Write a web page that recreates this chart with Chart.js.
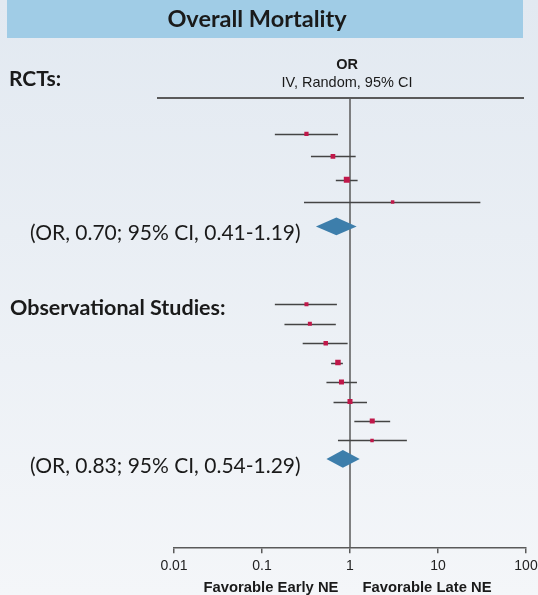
<!DOCTYPE html>
<html>
<head>
<meta charset="utf-8">
<script src="https://cdn.jsdelivr.net/npm/chart.js@4.4.0/dist/chart.umd.min.js"></script>
<style>
  html, body { margin: 0; padding: 0; }
  body { width: 538px; height: 595px; background: linear-gradient(#e2e9f1, #f4f6f9); overflow: hidden; }
</style>
</head>
<body>
<canvas id="forest" width="538" height="595"></canvas>
<script>
// odds ratios with 95% CI
const rctOR = [0.32, 0.64, 0.92, 3.05];
const rctLow = [0.14, 0.36, 0.69, 0.30];
const rctHigh = [0.73, 1.16, 1.22, 30.3];
const rctWeight = [18, 22, 36, 12];   // relative weight -> square area
const rctPooled = [0.70, 0.41, 1.19];  // OR, low, high

const obsOR = [0.32, 0.35, 0.53, 0.73, 0.80, 1.00, 1.79, 1.78];
const obsLow = [0.14, 0.18, 0.29, 0.61, 0.54, 0.65, 1.12, 0.73];
const obsHigh = [0.71, 0.69, 0.94, 0.83, 1.20, 1.56, 2.86, 4.43];
const obsWeight = [16, 16, 20, 30, 25, 25, 25, 12];
const obsPooled = [0.83, 0.54, 1.29];

const xTicks = [0.01, 0.1, 1, 10, 100];

// vertical layout (row slots on the hidden y scale)
const rctRow = [1.85, 3.0, 4.2, 5.35];
const rctPooledRow = 6.6;
const obsRow = [10.6, 11.6, 12.6, 13.6, 14.6, 15.6, 16.6, 17.6];
const obsPooledRow = 18.55;
const rowMax = 23.14;

const SQUARE = '#c0184a';
const DIAMOND = '#3d7eab';
const LINE = '#5a5a5a';
const MYRIAD = 'Lato, "Open Sans", sans-serif';
const ARIAL = '"Liberation Sans", Arial, sans-serif';

function pts(or, rows) {
    return or.map((v, i) => ({ x: v, y: rows[i] }));
}

function radiusFrom(weights) {
    // side of square ~ sqrt(weight); chart.js rect side = 2 * r * SQRT1_2
    return weights.map(w => Math.sqrt(w) * Math.SQRT1_2);
}

const forestDecor = {
    id: 'forestDecor',
    beforeDraw(chart) {
        const c = chart.ctx;
        const x = chart.scales.x;
        const area = chart.chartArea;
        c.save();
        // title banner
        c.fillStyle = '#a0cce6';
        c.fillRect(7, 0, 516, 38);
        c.fillStyle = '#1a1a1a';
        c.font = 'bold 23.5px ' + MYRIAD;
        c.textAlign = 'center';
        c.textBaseline = 'middle';
        c.fillText('Overall Mortality', 257, 19);

        // column header
        c.font = 'bold 14.5px ' + ARIAL;
        c.fillText('OR', 347, 65);
        c.font = '14.5px ' + ARIAL;
        c.fillText('IV, Random, 95% CI', 347, 83);

        c.textAlign = 'left';
        c.font = 'bold 21px ' + MYRIAD;
        c.fillText('RCTs:', 9, 79);

        // header rule and line of no effect
        c.strokeStyle = LINE;
        c.lineWidth = 2;
        c.beginPath();
        c.moveTo(157, area.top);
        c.lineTo(area.right - 2, area.top);
        c.stroke();
        const one = x.getPixelForValue(1);
        c.lineWidth = 1.5;
        c.beginPath();
        c.moveTo(one, area.top);
        c.lineTo(one, area.bottom);
        c.stroke();
        c.restore();
    },
    beforeDatasetsDraw(chart) {
        const c = chart.ctx;
        const x = chart.scales.x;
        const y = chart.scales.y;
        c.save();
        c.strokeStyle = '#444';
        c.lineWidth = 1.5;
        const whisk = (lo, hi, rows) => {
            lo.forEach((v, i) => {
                const py = Math.round(y.getPixelForValue(rows[i])) + 0.5;
                c.beginPath();
                c.moveTo(x.getPixelForValue(v), py);
                c.lineTo(x.getPixelForValue(hi[i]), py);
                c.stroke();
            });
        };
        whisk(rctLow, rctHigh, rctRow);
        whisk(obsLow, obsHigh, obsRow);
        c.restore();
    },
    afterDatasetsDraw(chart) {
        const c = chart.ctx;
        const x = chart.scales.x;
        const y = chart.scales.y;
        c.save();
        const diamond = (p, row) => {
            const py = y.getPixelForValue(row);
            c.fillStyle = DIAMOND;
            c.beginPath();
            c.moveTo(x.getPixelForValue(p[1]), py);
            c.lineTo(x.getPixelForValue(p[0]), py - 8.8);
            c.lineTo(x.getPixelForValue(p[2]), py);
            c.lineTo(x.getPixelForValue(p[0]), py + 8.8);
            c.closePath();
            c.fill();
            c.fillStyle = '#1a1a1a';
            c.font = '21px ' + MYRIAD;
            c.textAlign = 'left';
            c.textBaseline = 'middle';
            c.fillText('(OR, ' + p[0].toFixed(2) + '; 95% CI, ' + p[1].toFixed(2) + '-' + p[2].toFixed(2) + ')', 30, py + 7);
        };
        diamond(rctPooled, rctPooledRow);
        diamond(obsPooled, obsPooledRow);

        c.fillStyle = '#1a1a1a';
        c.font = 'bold 21.5px ' + MYRIAD;
        c.textAlign = 'left';
        c.textBaseline = 'middle';
        c.fillText('Observational Studies:', 10, 308);

        c.font = 'bold 14.8px ' + ARIAL;
        c.textAlign = 'center';
        c.fillText('Favorable Early NE', 271, 588);
        c.fillText('Favorable Late NE', 427, 588);
        c.restore();
    }
};

new Chart(document.getElementById('forest').getContext('2d'), {
    type: 'scatter',
    data: {
        datasets: [
            {
                label: 'RCTs',
                data: pts(rctOR, rctRow),
                pointStyle: 'rect',
                pointRadius: radiusFrom(rctWeight),
                backgroundColor: SQUARE,
                borderWidth: 0,
            },
            {
                label: 'Observational',
                data: pts(obsOR, obsRow),
                pointStyle: 'rect',
                pointRadius: radiusFrom(obsWeight),
                backgroundColor: SQUARE,
                borderWidth: 0,
            },
        ],
    },
    options: {
        responsive: false,
        animation: false,
        layout: { padding: { left: 174, right: 0, top: 98, bottom: 15 } },
        plugins: { legend: { display: false }, tooltip: { enabled: false } },
        scales: {
            x: {
                type: 'logarithmic',
                min: 0.01,
                max: 100,
                afterBuildTicks: (scale) => {
                    scale.ticks = xTicks.map(v => ({ value: v }));
                },
                // let the "100" label run to the edge like the original
                afterFit: (scale) => {
                    scale.paddingRight = 12;
                },
                border: { color: LINE, width: 1.5 },
                grid: { drawOnChartArea: false, color: LINE, lineWidth: 1.5, tickLength: 5 },
                ticks: {
                    color: '#222',
                    padding: 5,
                    font: { family: ARIAL, size: 14 },
                    callback: (v) => String(v),
                },
            },
            y: {
                type: 'linear',
                min: 0,
                max: rowMax,
                reverse: true,
                display: false,
            },
        },
    },
    plugins: [forestDecor],
});
</script>
</body>
</html>
